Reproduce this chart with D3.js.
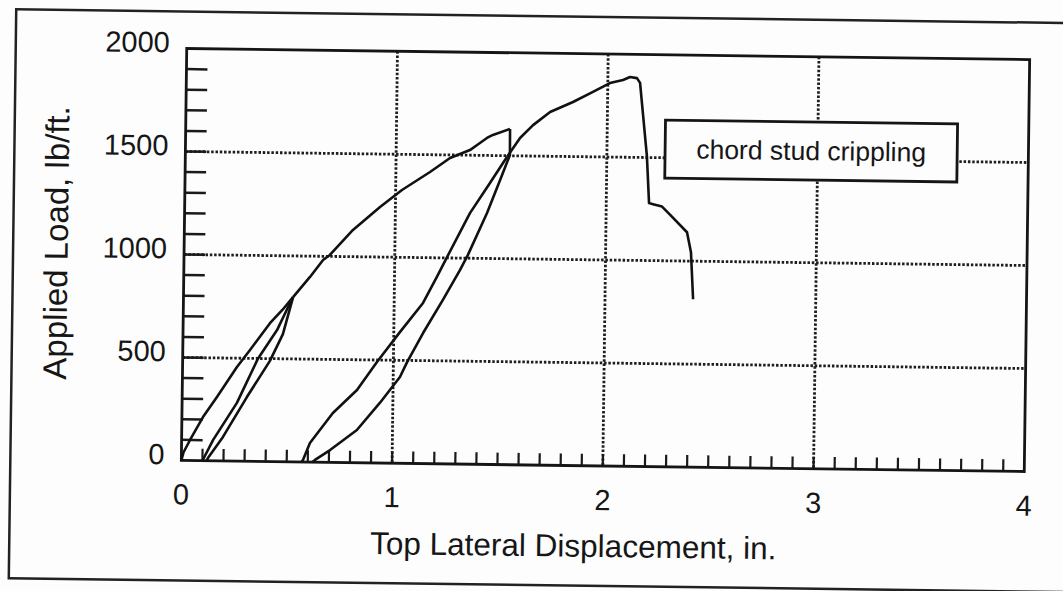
<!DOCTYPE html>
<html>
<head>
<meta charset="utf-8">
<script src="https://cdn.jsdelivr.net/npm/d3@7"></script>
<style>
  body { margin: 0; background: #fdfdfd; }
  svg text { font-family: "Liberation Sans", Arial, sans-serif; fill: #161616; }
</style>
</head>
<body>
<div id="viz"></div>
<script>
// tick labels / grid
var xTicks = [0, 1, 2, 3, 4];
var yTicks = [0, 500, 1000, 1500, 2000];
var xGrid = [1, 2, 3];
var yGrid = [500, 1000, 1500];

// test record, [displacement in., load lb/ft]
var loading1 = [[0,0],[0.01,40],[0.04,100],[0.10,212],[0.165,310],[0.258,457],[0.319,541],[0.412,672],[0.47,737],[0.52,800]];
var unload1 = [[0.52,800],[0.474,620],[0.414,489],[0.307,312],[0.196,117],[0.126,14],[0.12,0]];
var reload1 = [[0.10,0],[0.149,101],[0.26,283],[0.357,499],[0.446,639],[0.506,771],[0.52,800]];
var loading2 = [[0.52,800],[0.599,899],[0.66,982],[0.692,1007],[0.80,1130],[0.927,1243],[1.03,1327],[1.162,1416],[1.256,1485],[1.35,1525],[1.397,1560],[1.43,1585],[1.458,1600],[1.539,1630]];
var unload2 = [[1.539,1630],[1.54,1504],[1.495,1382],[1.435,1221],[1.347,1016],[1.31,942],[1.231,796],[1.139,634],[1.065,492],[1.032,419],[0.939,293],[0.831,159],[0.705,60],[0.634,11],[0.62,0]];
var reload2 = [[0.57,0],[0.577,10],[0.609,93],[0.716,240],[0.829,353],[0.922,490],[1.029,637],[1.137,780],[1.201,907],[1.248,1004],[1.354,1219],[1.447,1366],[1.526,1494]];
var failure = [[1.526,1494],[1.587,1587],[1.648,1650],[1.728,1715],[1.836,1765],[1.93,1815],[2.01,1859],[2.072,1875],[2.105,1890],[2.138,1885],[2.153,1862],[2.19,1507],[2.203,1279],[2.222,1274],[2.265,1263],[2.303,1224],[2.385,1140],[2.405,1043],[2.418,815]];

var note = "chord stud crippling";
var noteBox = [2.276, 3.662, 1401, 1683]; // x0, x1, load0, load1

var W = 1063, H = 591;
var pl = 184, pr = 1027, pt = 54, pb = 466;

var svg = d3.select("#viz")
    .append("svg")
    .attr("width", W)
    .attr("height", H);

// the scan is a little crooked, so is the drawing
var g = svg.append("g")
    .attr("transform", "rotate(0.75,605,260)");

var x = d3.scaleLinear().domain([0, 4]).range([pl, pr]);
var y = d3.scaleLinear().domain([0, 2000]).range([pb, pt]);

// outer frame
g.append("rect")
    .attr("x", 13)
    .attr("y", 17)
    .attr("width", 1070)
    .attr("height", 569)
    .attr("fill", "none")
    .attr("stroke", "#222")
    .attr("stroke-width", 2.5);

// grid
g.selectAll(".gx").data(xGrid).enter().append("line")
    .attr("x1", d => x(d)).attr("x2", d => x(d))
    .attr("y1", pt).attr("y2", pb)
    .attr("stroke", "#1e1e1e")
    .attr("stroke-width", 2.8)
    .attr("stroke-dasharray", "2.5,1.8");

g.selectAll(".gy").data(yGrid).enter().append("line")
    .attr("x1", pl).attr("x2", pr)
    .attr("y1", d => y(d)).attr("y2", d => y(d))
    .attr("stroke", "#1e1e1e")
    .attr("stroke-width", 2.8)
    .attr("stroke-dasharray", "2.5,1.8");

// minor ticks inside the frame
g.selectAll(".ty").data(d3.range(100, 2000, 100)).enter().append("line")
    .attr("x1", pl).attr("x2", pl + 21)
    .attr("y1", d => y(d)).attr("y2", d => y(d))
    .attr("stroke", "#1a1a1a")
    .attr("stroke-width", 2.5);

g.selectAll(".tx").data(d3.range(1, 40)).enter().append("line")
    .attr("x1", d => x(d / 10)).attr("x2", d => x(d / 10))
    .attr("y1", pb).attr("y2", pb - 12)
    .attr("stroke", "#1a1a1a")
    .attr("stroke-width", 2.2);

// plot border
g.append("rect")
    .attr("x", pl)
    .attr("y", pt)
    .attr("width", pr - pl)
    .attr("height", pb - pt)
    .attr("fill", "none")
    .attr("stroke", "#151515")
    .attr("stroke-width", 2.8);

// curves
var line = d3.line().x(d => x(d[0])).y(d => y(d[1]));
var branches = [loading1, unload1, reload1, loading2, unload2, reload2, failure];

g.selectAll(".curve").data(branches).enter().append("path")
    .attr("d", line)
    .attr("fill", "none")
    .attr("stroke", "#111")
    .attr("stroke-width", 2.6)
    .attr("stroke-linejoin", "round");

// note box
g.append("rect")
    .attr("x", x(noteBox[0]))
    .attr("y", y(noteBox[3]))
    .attr("width", x(noteBox[1]) - x(noteBox[0]))
    .attr("height", y(noteBox[2]) - y(noteBox[3]))
    .attr("fill", "#fdfdfd")
    .attr("stroke", "#151515")
    .attr("stroke-width", 2.8);

g.append("text")
    .attr("x", (x(noteBox[0]) + x(noteBox[1])) / 2)
    .attr("y", (y(noteBox[2]) + y(noteBox[3])) / 2)
    .attr("text-anchor", "middle")
    .attr("dominant-baseline", "central")
    .attr("font-size", 26.5)
    .text(note);

// tick labels
g.selectAll(".ly").data(yTicks).enter().append("text")
    .attr("x", 167)
    .attr("y", d => y(d) - 6)
    .attr("text-anchor", "end")
    .attr("dominant-baseline", "central")
    .attr("font-size", 29)
    .text(d => d);

g.selectAll(".lx").data(xTicks).enter().append("text")
    .attr("x", d => x(d))
    .attr("y", pb + 34)
    .attr("text-anchor", "middle")
    .attr("dominant-baseline", "central")
    .attr("font-size", 29)
    .text(d => d);

// axis titles
g.append("text")
    .attr("x", 577)
    .attr("y", 546)
    .attr("text-anchor", "middle")
    .attr("dominant-baseline", "central")
    .attr("font-size", 31.5)
    .text("Top Lateral Displacement, in.");

g.append("text")
    .attr("transform", "translate(56,250)rotate(-90)")
    .attr("text-anchor", "middle")
    .attr("dominant-baseline", "central")
    .attr("font-size", 33)
    .text("Applied Load, lb/ft.");
</script>
</body>
</html>
